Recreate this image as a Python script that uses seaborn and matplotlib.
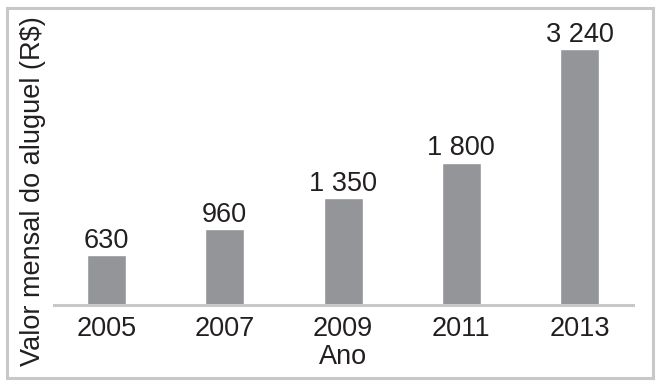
import matplotlib
matplotlib.use("Agg")
import matplotlib.pyplot as plt
import seaborn as sns
import pandas as pd
from matplotlib.patches import Rectangle

years = ["2005", "2007", "2009", "2011", "2013"]
values = [630, 960, 1350, 1800, 3240]
value_labels = ["630", "960", "1 350", "1 800", "3 240"]
x_title = "Ano"
y_title = "Valor mensal do aluguel (R$)"

sns.set_theme(style="white")
plt.rcParams["font.family"] = ["Liberation Sans", "DejaVu Sans"]
text_color = "#231f20"
bar_color = "#939598"
line_color = "#c8c8ca"

W, H = 661, 387
fig = plt.figure(figsize=(W / 100, H / 100), dpi=100)
fig.patch.set_facecolor("white")

ax_left, ax_right = 54, 633
ax_top, ax_bottom = 20, 305
ax = fig.add_axes([ax_left / W, (H - ax_bottom) / H, (ax_right - ax_left) / W, (ax_bottom - ax_top) / H])

df = pd.DataFrame({"Ano": years, "Valor": values})
sns.barplot(data=df, x="Ano", y="Valor", color=bar_color, saturation=1, width=0.33, ax=ax, zorder=1)

ax.set_xlim(-0.444, 4.452)
ax.set_ylim(0, 3240 * (ax_bottom - ax_top) / 256)

for i, (v, lab) in enumerate(zip(values, value_labels)):
    ax.annotate(lab, xy=(i, v), xytext=(0, 1), textcoords="offset points",
                ha="center", va="bottom", fontsize=19.5, color=text_color)

for s in ["top", "right", "left"]:
    ax.spines[s].set_visible(False)
ax.spines["bottom"].set_color(line_color)
ax.spines["bottom"].set_linewidth(2.2)
ax.spines["bottom"].set_zorder(3)
ax.set_yticks([])
ax.tick_params(axis="x", length=0, pad=8, labelsize=19.5, labelcolor=text_color)
ax.set_xlabel(x_title, fontsize=19.5, color=text_color, labelpad=1)
ax.set_ylabel("")

fig.text(33 / W, 1 - 191.5 / H, y_title, rotation=90, ha="center", va="center",
         fontsize=19.5, color=text_color)

frame = Rectangle((6.5 / W, 1 - 377.5 / H), (652.5 - 6.5) / W, (377.5 - 7.5) / H,
                  transform=fig.transFigure, fill=False, edgecolor=line_color, linewidth=2.2)
fig.patches.append(frame)

fig.savefig("out.png", dpi=100)
